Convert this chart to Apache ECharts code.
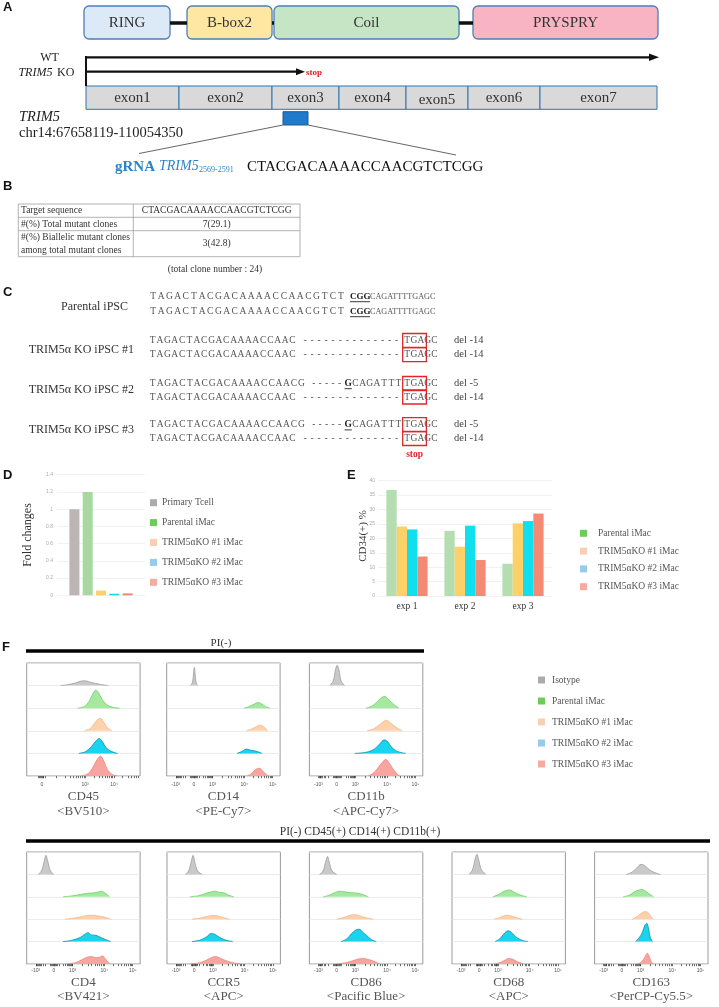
<!DOCTYPE html>
<html>
<head>
<meta charset="utf-8">
<script src="https://cdn.jsdelivr.net/npm/echarts@6/dist/echarts.min.js"></script>
<style>
  html, body { margin: 0; padding: 0; background: #fff; }
  #main { width: 719px; height: 1007px; }
</style>
</head>
<body>
<div id="main"></div>
<script>
// ---------- data ----------
// A: protein domains / exons
const domainNames = ['RING', 'B-box2', 'Coil', 'PRYSPRY'];
const exonNames = ['exon1', 'exon2', 'exon3', 'exon4', 'exon5', 'exon6', 'exon7'];
const gRNASeq = 'CTACGACAAAACCAACGTCTCGG';

// B: table
const tableLeft = ['Target sequence', '#(%) Total mutant clones', '#(%) Biallelic mutant clones\namong total mutant clones'];
const tableRight = ['CTACGACAAAACCAACGTCTCGG', '7(29.1)', '3(42.8)'];
const tableCaption = '(total clone number : 24)';

// C: alleles
const cLabels = ['Parental iPSC', 'TRIM5α KO iPSC #1', 'TRIM5α KO iPSC #2', 'TRIM5α KO iPSC #3'];
const seqParental = 'TAGACTACGACAAAACCAACGTCTCGGCAGATTTTGAGC';
const seqDel14 = 'TAGACTACGACAAAACCAAC--------------TGAGC';
const seqDel5 = 'TAGACTACGACAAAACCAACG-----GCAGATTTTGAGC';
const cAlleles = [['parental', 'parental'], ['del14', 'del14'], ['del5', 'del14'], ['del5', 'del14']];
const cDels = [['', ''], ['del -14', 'del -14'], ['del -5', 'del -14'], ['del -5', 'del -14']];

// D: fold changes
const foldNames = ['Primary Tcell', 'Parental iMac', 'TRIM5αKO #1 iMac', 'TRIM5αKO #2 iMac', 'TRIM5αKO #3 iMac'];
const foldValues = [1.0, 1.2, 0.055, 0.018, 0.022];

// E: CD34(+) %
const expNames = ['exp 1', 'exp 2', 'exp 3'];
const cd34Names = ['Parental iMac', 'TRIM5αKO #1 iMac', 'TRIM5αKO #2 iMac', 'TRIM5αKO #3 iMac'];
const cd34Parental = [36.8, 22.6, 11.2];
const cd34KO1 = [24.1, 17.1, 25.2];
const cd34KO2 = [23.1, 24.4, 26.0];
const cd34KO3 = [13.7, 12.5, 28.6];

// F: histograms, [position on display axis 0-100, height as fraction of row]
const histNames = ['Isotype', 'Parental iMac', 'TRIM5αKO #1 iMac', 'TRIM5αKO #2 iMac', 'TRIM5αKO #3 iMac'];
const markerNames = ['CD45', 'CD14', 'CD11b', 'CD4', 'CCR5', 'CD86', 'CD68', 'CD163'];
const markerDyes = ['<BV510>', '<PE-Cy7>', '<APC-Cy7>', '<BV421>', '<APC>', '<Pacific Blue>', '<APC>', '<PerCP-Cy5.5>'];
const biexTickLabels = ['-10³', '0', '10³', '10⁴', '10⁵'];
const cd45TickLabels = ['0', '10³', '10⁴'];

const hCD45 = [
  [[30,0],[36,0.04],[42,0.1],[46,0.17],[50,0.21],[53,0.2],[56,0.15],[60,0.1],[65,0.05],[72,0]],
  [[45,0],[51,0.08],[55,0.3],[58,0.6],[61,0.8],[64,0.62],[67,0.35],[71,0.14],[76,0.04],[82,0]],
  [[51,0],[56,0.1],[60,0.35],[63,0.52],[65,0.55],[68,0.38],[71,0.15],[75,0]],
  [[46,0],[52,0.08],[57,0.3],[61,0.55],[64,0.66],[67,0.5],[70,0.25],[75,0.08],[80,0]],
  [[48,0],[54,0.1],[58,0.35],[62,0.72],[65,0.88],[68,0.66],[71,0.3],[75,0.08],[80,0]]
];
const hCD14 = [
  [[21,0],[22.8,0.15],[23.8,0.6],[24.4,0.8],[25,0.55],[26,0.12],[27.5,0]],
  [[68,0],[72,0.06],[76,0.15],[79,0.23],[81,0.25],[84,0.18],[87,0.08],[91,0]],
  [[70,0],[74,0.06],[78,0.16],[81,0.24],[83,0.25],[86,0.16],[89,0]],
  [[62,0],[66,0.08],[69,0.17],[71,0.19],[74,0.14],[77,0.12],[80,0.08],[84,0]],
  [[71,0],[74,0.08],[77,0.22],[80,0.33],[82,0.34],[85,0.2],[88,0.06],[90,0]]
];
const hCD11b = [
  [[18,0],[21,0.2],[23,0.7],[24.5,0.9],[26,0.7],[28,0.2],[31,0]],
  [[50,0],[56,0.12],[60,0.3],[64,0.48],[66.5,0.52],[70,0.38],[74,0.18],[79,0]],
  [[51,0],[57,0.1],[62,0.28],[66,0.43],[68,0.47],[72,0.33],[77,0.14],[82,0]],
  [[40,0],[50,0.05],[57,0.18],[62,0.42],[66,0.6],[69,0.52],[72,0.3],[77,0.1],[85,0]],
  [[52,0],[57,0.15],[61,0.4],[65,0.65],[67.5,0.73],[70,0.6],[74,0.3],[79,0]]
];
const hCD4 = [
  [[10,0],[13,0.15],[15.5,0.6],[17,0.85],[18.5,0.6],[21,0.15],[24,0]],
  [[32,0],[40,0.04],[47,0.1],[54,0.16],[58,0.17],[62,0.2],[66,0.25],[69,0.17],[73,0]],
  [[34,0],[42,0.05],[49,0.12],[55,0.18],[60,0.17],[65,0.13],[70,0.07],[74,0]],
  [[32,0],[40,0.06],[47,0.18],[51,0.32],[54,0.4],[57,0.3],[61,0.28],[66,0.17],[70,0.08],[74,0]],
  [[35,0],[43,0.06],[49,0.2],[53,0.3],[57,0.33],[61,0.28],[64,0.3],[67,0.36],[69,0.25],[73,0]]
];
const hCCR5 = [
  [[16,0],[19,0.15],[21.5,0.6],[23,0.85],[24.5,0.55],[27,0.15],[31,0]],
  [[20,0],[28,0.05],[34,0.15],[39,0.22],[42,0.25],[46,0.2],[50,0.18],[54,0.08],[59,0]],
  [[22,0],[29,0.05],[35,0.12],[40,0.17],[44,0.15],[49,0.08],[55,0]],
  [[22,0],[30,0.08],[35,0.22],[39,0.36],[42,0.33],[46,0.2],[51,0.08],[58,0]],
  [[20,0],[29,0.06],[35,0.18],[40,0.3],[43,0.33],[47,0.26],[52,0.15],[58,0.06],[65,0]]
];
const hCD86 = [
  [[9,0],[12,0.15],[14.5,0.6],[16,0.8],[17.5,0.55],[20,0.15],[24,0]],
  [[12,0],[18,0.08],[23,0.2],[27,0.25],[31,0.22],[37,0.18],[43,0.16],[47,0.1],[52,0]],
  [[24,0],[29,0.06],[34,0.14],[38,0.2],[42,0.19],[46,0.12],[51,0.05],[56,0]],
  [[28,0],[33,0.12],[37,0.35],[41,0.52],[44,0.55],[47,0.42],[51,0.25],[55,0.08],[59,0]],
  [[24,0],[32,0.06],[38,0.14],[43,0.22],[47,0.25],[52,0.2],[57,0.12],[62,0]]
];
const hCD68 = [
  [[15,0],[18,0.2],[20.5,0.7],[22,0.9],[23.5,0.65],[26,0.2],[30,0]],
  [[36,0],[41,0.1],[45,0.22],[48,0.28],[51,0.3],[55,0.2],[60,0.08],[66,0]],
  [[37,0],[42,0.07],[46,0.15],[49,0.18],[52,0.15],[57,0.06],[62,0]],
  [[38,0],[42,0.12],[45,0.3],[48,0.46],[50,0.48],[54,0.32],[58,0.15],[63,0.04],[67,0]],
  [[38,0],[43,0.08],[47,0.18],[50,0.25],[53,0.22],[57,0.12],[63,0]]
];
const hCD163 = [
  [[28,0],[33,0.1],[37,0.28],[41,0.45],[44,0.4],[48,0.22],[53,0.08],[58,0]],
  [[25,0],[31,0.08],[35,0.22],[39,0.3],[42,0.33],[45,0.25],[49,0.1],[52,0]],
  [[33,0],[37,0.1],[40,0.22],[43,0.32],[45,0.34],[48,0.25],[50,0.1],[52,0]],
  [[36,0],[39,0.15],[42,0.4],[44.5,0.75],[46,0.82],[47.5,0.6],[49,0.2],[51,0]],
  [[38,0],[41,0.08],[43,0.2],[45,0.38],[46.5,0.48],[48,0.35],[50,0.1],[52,0]]
];
const histData = [hCD45, hCD14, hCD11b, hCD4, hCCR5, hCD86, hCD68, hCD163];

// ---------- styles / layout ----------
const SERIF = '"Liberation Serif", "Times New Roman", serif';
const SANS = '"Liberation Sans", Arial, sans-serif';
const legendColors = ['#ababab', '#6ccb5b', '#f9cfb4', '#96cbea', '#f6aaa0'];
const foldColors = ['#bdb5b5', '#a8d8a0', '#fdd063', '#12d6ea', '#f08472'];
const cd34Colors = ['#b4ddb0', '#fdd068', '#10e0ee', '#f58a74'];
const histFill = ['#c9c9c9', '#a5e8a0', '#fcd1ab', '#19d4ee', '#f8a59f'];
const histLine = ['#9d9d9d', '#6fcf67', '#f3b888', '#0b8fa8', '#ee8580'];

const g = [];
function T(x, y, text, size, o) {
  o = o || {};
  g.push({
    type: 'text', x: x, y: y, rotation: o.rot || 0, silent: true, z: 20,
    style: {
      text: text, fill: o.color || '#333',
      fontFamily: o.family || SERIF, fontSize: size,
      fontWeight: o.bold ? 'bold' : 'normal', fontStyle: o.italic ? 'italic' : 'normal',
      lineHeight: o.lh || size * 1.15,
      textAlign: o.align || 'left', align: o.align || 'left',
      textVerticalAlign: 'middle', verticalAlign: 'middle'
    }
  });
}
function L(x1, y1, x2, y2, color, w) {
  g.push({ type: 'line', silent: true, z: 15, shape: { x1, y1, x2, y2 }, style: { stroke: color, lineWidth: w } });
}
function R(x, y, w, h, fill, stroke, lw, r) {
  g.push({ type: 'rect', silent: true, z: 12, shape: { x, y, width: w, height: h, r: r || 0 },
    style: { fill: fill, stroke: stroke, lineWidth: lw || 0 } });
}
function P(points, fill) {
  g.push({ type: 'polygon', silent: true, z: 15, shape: { points }, style: { fill } });
}

// panel letters
[['A', 3, 7], ['B', 3, 186], ['C', 3, 292], ['D', 3, 475], ['E', 347, 475], ['F', 2, 647]].forEach(d =>
  T(d[1], d[2], d[0], 13, { bold: true, family: SANS, color: '#111' }));

// ---------- panel A ----------
const domainX = [[84, 170], [187, 272], [274, 459], [473, 658]];
const domainFill = ['#dce9f7', '#fde7a1', '#c6e5c4', '#f8b4c2'];
L(170, 23, 187, 23, '#111', 3.5);
L(272, 23, 274, 23, '#111', 3.5);
L(459, 23, 473, 23, '#111', 3.5);
domainNames.forEach((n, i) => {
  const [a, b] = domainX[i];
  R(a, 6, b - a, 33, domainFill[i], '#4d7fb8', 1.3, 5);
  T((a + b) / 2, 23, n, 15, { align: 'center' });
});
T(49.5, 58, 'WT', 12, { align: 'center', color: '#222' });
L(86, 57.3, 652, 57.3, '#111', 2.2);
P([[649, 53.5], [659, 57.3], [649, 61.1]], '#111');
T(18.4, 72.7, 'TRIM5', 12, { italic: true, color: '#222' });
T(57, 72.7, 'KO', 12, { color: '#222' });
L(86, 71.7, 299, 71.7, '#111', 2.2);
P([[296, 68.2], [305, 71.7], [296, 75.2]], '#111');
T(306, 72.5, 'stop', 9, { bold: true, color: '#e02020' });
L(86, 56, 86, 86, '#111', 2);
const exonX = [86, 179, 272, 339, 406, 468, 540, 657];
exonNames.forEach((n, i) => {
  R(exonX[i], 86, exonX[i + 1] - exonX[i], 23.3, '#d9d9d9', '#2f74b5', 1);
  T((exonX[i] + exonX[i + 1]) / 2, i === 4 ? 100.5 : 98, n, 15, { align: 'center' });
});
T(19, 117, 'TRIM5', 14.5, { italic: true, color: '#222' });
T(19, 133.5, 'chr14:67658119-110054350', 14.5, { color: '#222' });
R(283, 111.7, 25, 13.3, '#1e7bcb', '#245a8e', 1);
L(283, 125, 139, 153.5, '#555', 0.9);
L(308, 125, 456, 155, '#555', 0.9);
T(115, 166.7, 'gRNA', 15, { bold: true, color: '#2b84c6' });
T(159, 166.7, 'TRIM5', 14, { italic: true, color: '#2b84c6' });
T(199, 170, '2569-2591', 8, { color: '#2b84c6' });
T(247, 166.7, gRNASeq, 15, { color: '#111' });

// ---------- panel B ----------
R(18.3, 204, 281.7, 52.7, 'none', '#a0a0a0', 0.8);
L(18.3, 217.3, 300, 217.3, '#a0a0a0', 0.8);
L(18.3, 230.7, 300, 230.7, '#a0a0a0', 0.8);
L(133.3, 204, 133.3, 256.7, '#a0a0a0', 0.8);
const rowY = [210.7, 224, 243.7];
tableLeft.forEach((t, i) => T(21, rowY[i], t, 9.5, { color: '#333', lh: 13 }));
tableRight.forEach((t, i) => T(216.7, rowY[i], t, 9.5, { color: '#333', align: 'center' }));
T(215, 269, tableCaption, 9.5, { align: 'center', color: '#333' });

// ---------- panel C ----------
const seqText = { parental: seqParental, del14: seqDel14, del5: seqDel5 };
// [from, to, x0, pitch]; pitch 0 = one plain string (width in 5th slot)
const seqLayouts = {
  parental: [[0, 24, 149, 8.17], [24, 27, 350, 0, 20], [27, 39, 370, 0, 68]],
  del14: [[0, 20, 149, 7.36], [20, 34, 301.5, 7.04], [34, 39, 403.8, 6.82]],
  del5: [[0, 21, 149, 7.43], [21, 26, 310.5, 6.46], [26, 27, 344.6, 7.2], [27, 34, 351.8, 7.18], [34, 39, 403.8, 6.82]]
};
const seqBold = { parental: [24, 25, 26], del14: [], del5: [26] };
const cRowY = [[296.5, 311.5], [340.5, 354.7], [383.5, 397], [424.7, 438.5]];
const cLabelPos = [[61, 306.7], [28.7, 350], [28.7, 390], [28.7, 430]];
cLabels.forEach((lab, k) => {
  T(cLabelPos[k][0], cLabelPos[k][1], lab, 12, { color: '#333' });
  cAlleles[k].forEach((kind, j) => {
    const y = cRowY[k][j];
    const s = seqText[kind];
    seqLayouts[kind].forEach(([a, b, x0, pitch, w]) => {
      if (!pitch) {
        const bold = seqBold[kind].indexOf(a) >= 0;
        T(x0, y, s.slice(a, b), bold ? 9 : 8.2, { bold: bold, color: bold ? '#222' : '#555' });
        if (bold) L(x0, y + 5.2, x0 + w, y + 5.2, '#222', 0.9);
        return;
      }
      for (let i = a; i < b; i++) {
        const bold = seqBold[kind].indexOf(i) >= 0;
        const cx = x0 + pitch * (i - a) + pitch / 2;
        T(cx, y, s[i], 9.5, { align: 'center', bold: bold, color: bold ? '#222' : '#555' });
        if (bold) L(cx - pitch / 2, y + 5.2, cx + pitch / 2, y + 5.2, '#222', 0.9);
      }
    });
    if (cDels[k][j]) T(454, y, cDels[k][j], 10.5, { color: '#444' });
    if (k > 0) R(402.7, y - 7, 23.7, 14, 'none', '#e0262b', 1.3);
  });
});
T(414.6, 455, 'stop', 9.5, { bold: true, align: 'center', color: '#e0262b' });

// ---------- panel D / E labels ----------
T(28.3, 535, 'Fold changes', 12, { rot: Math.PI / 2, align: 'center', color: '#333' });
T(363, 536, 'CD34(+) %', 11, { rot: Math.PI / 2, align: 'center', color: '#333' });

// ---------- panel F decorations ----------
T(221, 643, 'PI(-)', 11, { align: 'center', color: '#333' });
R(26, 649.3, 398, 3.5, '#000', null, 0);
T(360, 831.7, 'PI(-) CD45(+) CD14(+) CD11b(+)', 11.5, { align: 'center', color: '#333' });
R(26, 839.3, 684, 3.5, '#000', null, 0);

// ---------- axes / grids ----------
const grids = [];
const xAxes = [];
const yAxes = [];
const series = [];

// D
grids.push({ left: 57, top: 474.7, width: 88, height: 120.6 });
xAxes.push({ type: 'category', gridIndex: 0, data: [''], axisLine: { show: false }, axisTick: { show: false }, axisLabel: { show: false } });
yAxes.push({ type: 'value', gridIndex: 0, min: 0, max: 1.4, interval: 0.2,
  axisLine: { show: false }, axisTick: { show: false },
  axisLabel: { fontSize: 5, color: '#aaa', margin: 4 },
  splitLine: { lineStyle: { color: '#eeeeee', width: 0.8 } } });
foldNames.forEach((n, i) => series.push({
  type: 'bar', name: n, xAxisIndex: 0, yAxisIndex: 0, data: [foldValues[i]],
  barWidth: 10, barGap: '33%', itemStyle: { color: foldColors[i] }
}));

// E
grids.push({ left: 378, top: 480.7, width: 174, height: 115.3 });
xAxes.push({ type: 'category', gridIndex: 1, data: expNames, axisLine: { show: false }, axisTick: { show: false },
  axisLabel: { fontSize: 9.5, color: '#333', fontFamily: SERIF, margin: 5 } });
yAxes.push({ type: 'value', gridIndex: 1, min: 0, max: 40, interval: 5,
  axisLine: { show: false }, axisTick: { show: false },
  axisLabel: { fontSize: 5, color: '#aaa', margin: 3 },
  splitLine: { lineStyle: { color: '#eeeeee', width: 0.8 } } });
[cd34Parental, cd34KO1, cd34KO2, cd34KO3].forEach((vals, i) => series.push({
  type: 'bar', name: cd34Names[i], xAxisIndex: 1, yAxisIndex: 1, data: vals,
  barWidth: 10.3, barGap: '0%', itemStyle: { color: cd34Colors[i] }
}));

// F histograms
const biexTickPos = [8, 24, 40.5, 68.5, 93.5];
const cd45TickPos = [13.5, 51.5, 77];
function decade(a, span) {
  const out = [];
  for (let k = 2; k <= 9; k++) { const v = a + span * Math.log10(k); if (v < 100) out.push(+v.toFixed(2)); }
  return out;
}
const biexMinor = [].concat(
  [2, 3, 4, 5, 6, 7, 8, 9].map(k => +(8 + 12 * (1 - Math.log10(k))).toFixed(2)),
  [21, 22, 22.7, 23.3, 24.7, 25.3, 26, 27, 28.5],
  decade(28.5, 12), decade(40.5, 28), decade(68.5, 25));
const cd45Minor = [].concat([10, 11, 12, 12.7, 14.3, 15, 16, 26], decade(26, 25.5), decade(51.5, 25.5), decade(77, 25.5));

const panelLeft = [26.7, 166.7, 309.4, 26.7, 167, 309.4, 452, 594.6];
markerNames.forEach((m, p) => {
  const top = p < 3;
  const gi = grids.length;
  grids.push({ left: panelLeft[p], top: top ? 663 : 852, width: 113.4, height: top ? 113 : 112,
    show: true, borderColor: '#9a9a9a', borderWidth: 1, backgroundColor: '#fff' });
  const ticks = p === 0 ? cd45TickPos : biexTickPos;
  const labels = p === 0 ? cd45TickLabels : biexTickLabels;
  const minor = p === 0 ? cd45Minor : biexMinor;
  xAxes.push({
    type: 'value', gridIndex: gi, min: 0, max: 100,
    axisLine: { show: false },
    axisTick: { show: true, customValues: ticks.concat(minor), length: 2.2, lineStyle: { color: '#333', width: 0.7 } },
    axisLabel: { customValues: ticks, formatter: v => { const i = ticks.indexOf(v); return i >= 0 ? labels[i] : ''; },
      fontSize: 5, color: '#555', margin: top ? 6 : 4.5 },
    splitLine: { show: false },
    name: m + '\n' + markerDyes[p], nameLocation: 'middle', nameGap: top ? 13.5 : 12,
    nameTextStyle: { fontFamily: SERIF, fontSize: 13, color: '#555', lineHeight: top ? 15 : 14, align: 'center', verticalAlign: 'top' }
  });
  yAxes.push({ type: 'value', gridIndex: gi, min: 0, max: 5, interval: 1,
    axisLine: { show: false }, axisTick: { show: false }, axisLabel: { show: false },
    splitLine: { show: true, lineStyle: { color: '#e6e6e6', width: 0.8 } } });
  histData[p].forEach((pts, r) => {
    const base = 4 - r;
    series.push({
      type: 'line', name: histNames[r], xAxisIndex: gi, yAxisIndex: gi,
      data: pts.map(d => [d[0], base + d[1]]),
      smooth: 0.35, symbol: 'none', z: 3,
      lineStyle: { color: histLine[r], width: 0.8 },
      areaStyle: { color: histFill[r], opacity: 1, origin: base }
    });
  });
});

function legendOf(names, colors, left, top, gap, pad) {
  return {
    orient: 'vertical', left: left, top: top, padding: 0, itemWidth: 7, itemHeight: 7, itemGap: gap,
    icon: 'rect', selectedMode: false,
    data: names.map((n, i) => ({ name: n, itemStyle: { color: colors[i] } })),
    textStyle: { fontFamily: SERIF, fontSize: 9.5, color: '#555', lineHeight: 10, padding: [0, 0, 0, pad] }
  };
}

const chart = echarts.init(document.getElementById('main'), null, { renderer: 'canvas', width: 719, height: 1007 });
chart.setOption({
  animation: false,
  backgroundColor: '#fff',
  grid: grids,
  xAxis: xAxes,
  yAxis: yAxes,
  legend: [
    legendOf(foldNames, legendColors, 150, 497.7, 9.9, 0),
    legendOf(cd34Names, legendColors.slice(1), 580, 528.3, 7.8, 6),
    legendOf(histNames, legendColors, 538, 675, 11, 2)
  ],
  series: series,
  graphic: g
});
</script>
</body>
</html>
